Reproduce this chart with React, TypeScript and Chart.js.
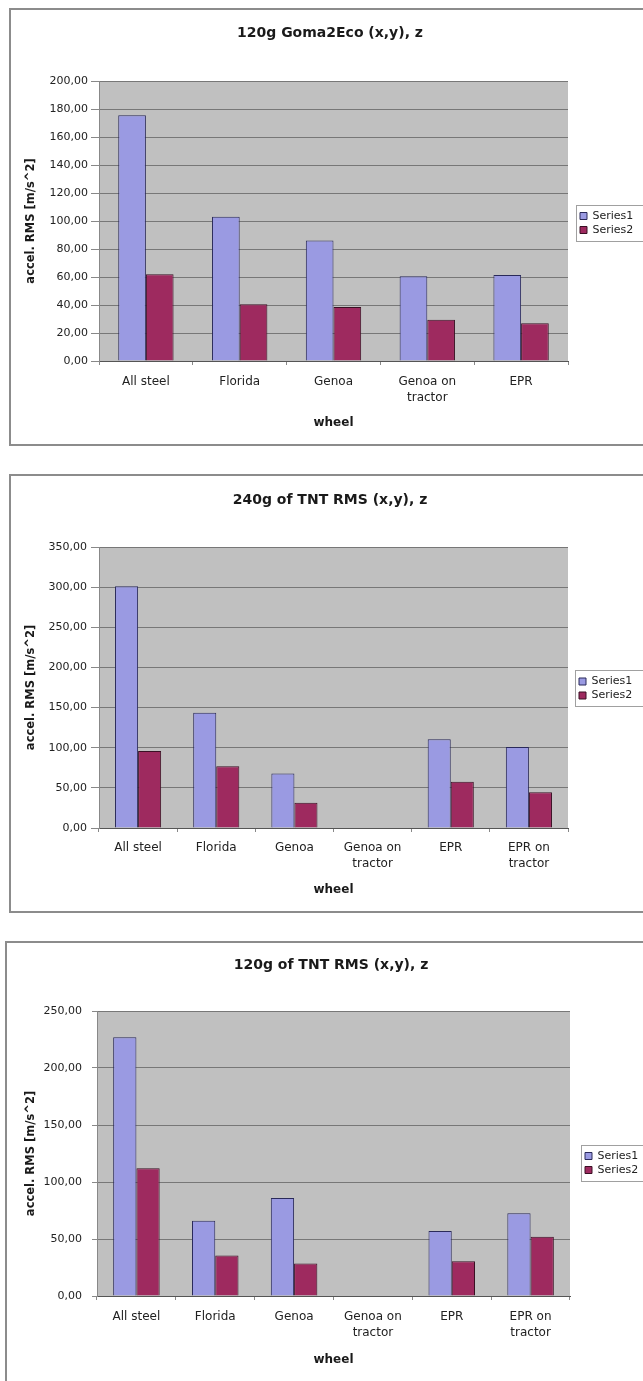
import React, { useEffect, useRef } from 'react';
import { Chart, registerables } from 'chart.js';

Chart.register(...registerables);

// ---------- data ----------
const categories1: (string | string[])[] = ['All steel', 'Florida', 'Genoa', ['Genoa on', 'tractor'], 'EPR'];
const series1Chart1: (number | null)[] = [175.5, 103, 86, 60.5, 61.5];
const series2Chart1: (number | null)[] = [62, 40.5, 38.5, 29.5, 27];

const categories2: (string | string[])[] = ['All steel', 'Florida', 'Genoa', ['Genoa on', 'tractor'], 'EPR', ['EPR on', 'tractor']];
const series1Chart2: (number | null)[] = [301, 143.5, 68, null, 110.5, 101];
const series2Chart2: (number | null)[] = [96, 77, 31.5, null, 57.5, 44.5];

const categories3: (string | string[])[] = ['All steel', 'Florida', 'Genoa', ['Genoa on', 'tractor'], 'EPR', ['EPR on', 'tractor']];
const series1Chart3: (number | null)[] = [227, 66, 86, null, 57, 72.5];
const series2Chart3: (number | null)[] = [112, 35.5, 28.5, null, 30.5, 52];

const seriesNames = ['Series1', 'Series2'];
const titles = ['120g Goma2Eco (x,y), z', '240g of TNT RMS (x,y), z', '120g of TNT RMS (x,y), z'];
const yAxisTitle = 'accel. RMS [m/s^2]';
const xAxisTitle = 'wheel';
const yMaxes = [200, 350, 250];
const ySteps = [20, 50, 50];

// ---------- styles ----------
const FONT = 'DejaVu Sans';
const S1_FILL = '#9a9ae2';
const S1_BORDER = '#2a2a5a';
const S2_FILL = '#9e2a5f';
const S2_BORDER = '#3a1024';
const PLOT_BG = '#c0c0c0';
const GRID = '#777777';

type Spec = {
  title: string;
  categories: (string | string[])[];
  s1: (number | null)[];
  s2: (number | null)[];
  yMax: number;
  yStep: number;
  box: { left: number; top: number; width: number; height: number };
  plot: { left: number; right: number; top: number; bottom: number }; // canvas coords
  titleY: number;
  titleCenter: number;
  yTitleX: number;
  xTitleFromBottom: number;
  xTickGap: number;
  yTickLen: number;
  yTickPad: number;
  legendDx: number;
  legendDy: number;
};

const specs: Spec[] = [
  {
    title: titles[0], categories: categories1, s1: series1Chart1, s2: series2Chart1,
    yMax: yMaxes[0], yStep: ySteps[0],
    box: { left: 9, top: 8, width: 690, height: 438 },
    plot: { left: 90, right: 559, top: 73, bottom: 353 },
    titleY: 25, titleCenter: 321, yTitleX: 22, xTitleFromBottom: 23, xTickGap: 8.9,
    yTickLen: 8, yTickPad: 3, legendDx: 9, legendDy: -4,
  },
  {
    title: titles[1], categories: categories2, s1: series1Chart2, s2: series2Chart2,
    yMax: yMaxes[1], yStep: ySteps[1],
    box: { left: 9, top: 474, width: 690, height: 439 },
    plot: { left: 90, right: 559, top: 73, bottom: 354 },
    titleY: 26, titleCenter: 321, yTitleX: 22, xTitleFromBottom: 23, xTickGap: 7.9,
    yTickLen: 8, yTickPad: 4, legendDx: 8, legendDy: -5,
  },
  {
    title: titles[2], categories: categories3, s1: series1Chart3, s2: series2Chart3,
    yMax: yMaxes[2], yStep: ySteps[2],
    box: { left: 5, top: 941, width: 690, height: 450 },
    plot: { left: 92, right: 565, top: 70, bottom: 355 },
    titleY: 24, titleCenter: 326, yTitleX: 26, xTitleFromBottom: 31, xTickGap: 8.9,
    yTickLen: 5, yTickPad: 10, legendDx: 12, legendDy: -3,
  },
];

const excelLook = {
  id: 'excelLook',
  afterLayout(chart: any, _args: any, opts: any) {
    const lg = chart.legend;
    if (lg) {
      lg.left += opts.legendDx; lg.right += opts.legendDx;
      lg.top += opts.legendDy; lg.bottom += opts.legendDy;
    }
    const tb = chart.titleBlock;
    if (tb) {
      const dx = opts.titleCenter - (tb.left + tb.right) / 2;
      tb.left += dx; tb.right += dx;
    }
  },
  beforeDraw(chart: any) {
    const { ctx, chartArea: a } = chart;
    ctx.save();
    ctx.fillStyle = '#ffffff';
    ctx.fillRect(0, 0, chart.width, chart.height);
    ctx.fillStyle = PLOT_BG;
    ctx.fillRect(a.left, a.top, a.right - a.left, a.bottom - a.top);
    ctx.restore();
  },
  afterDraw(chart: any) {
    const { ctx } = chart;
    ctx.save();
    // legend frame
    const hb = chart.legend?.legendHitBoxes || [];
    if (hb.length) {
      let l = Infinity, t = Infinity, b = -Infinity;
      hb.forEach((h: any) => { l = Math.min(l, h.left); t = Math.min(t, h.top); b = Math.max(b, h.top + h.height); });
      ctx.strokeStyle = '#a0a0a0';
      ctx.lineWidth = 1;
      ctx.strokeRect(Math.round(l - 4) + 0.5, Math.round(t - 6) + 0.5, chart.width, Math.round(b - t + 11));
    }
    // chart frame
    ctx.strokeStyle = '#8c8c8c';
    ctx.lineWidth = 2;
    ctx.strokeRect(1, 1, chart.width - 2, chart.height - 2);
    ctx.restore();
  },
};

function ChartPanel({ spec }: { spec: Spec }) {
  const ref = useRef<HTMLCanvasElement | null>(null);
  useEffect(() => {
    if (!ref.current) return;
    const s = spec;
    const titleLH = 14 * 1.2;
    const titlePadTop = s.titleY - titleLH / 2;
    const titlePadBottom = s.plot.top - titlePadTop - titleLH;
    const yTitleLH = 11.5 * 1.2;
    const xTitleLH = 12 * 1.2;
    const xTickLH = 12 * 1.35;
    const chart = new Chart(ref.current, {
      type: 'bar',
      data: {
        labels: s.categories as any,
        datasets: [
          { label: seriesNames[0], data: s.s1, backgroundColor: S1_FILL, borderColor: S1_BORDER, borderWidth: 1 },
          { label: seriesNames[1], data: s.s2, backgroundColor: S2_FILL, borderColor: S2_BORDER, borderWidth: 1 },
        ],
      },
      options: {
        responsive: false,
        animation: false,
        devicePixelRatio: 1,
        datasets: { bar: { categoryPercentage: 0.59, barPercentage: 1 } },
        layout: { padding: { left: 0, top: 0, right: 0, bottom: 0 } },
        plugins: {
          title: {
            display: true,
            text: s.title,
            color: '#1a1a1a',
            font: { family: FONT, size: 14, weight: 'bold', lineHeight: 1.2 },
            padding: { top: titlePadTop, bottom: titlePadBottom },
          },
          legend: {
            position: 'right',
            align: 'center',
            labels: {
              boxWidth: 7,
              boxHeight: 7,
              padding: 3,
              color: '#222',
              font: { family: FONT, size: 11 },
            },
          },
          tooltip: { enabled: false },
          excelLook: { legendDx: s.legendDx, legendDy: s.legendDy, titleCenter: s.titleCenter },
        } as any,
        scales: {
          x: {
            grid: { display: true, drawOnChartArea: false, drawTicks: true, tickLength: 4, color: '#888', offset: true },
            border: { display: true, color: '#555' },
            ticks: {
              color: '#222',
              font: { family: FONT, size: 12, lineHeight: 1.35 },
              padding: s.xTickGap + xTickLH / 2 - xTickLH / 2,
              maxRotation: 0,
              autoSkip: false,
            },
            title: {
              display: true,
              text: xAxisTitle,
              color: '#1a1a1a',
              font: { family: FONT, size: 12, weight: 'bold', lineHeight: 1.2 },
              padding: { top: 0, bottom: s.xTitleFromBottom - xTitleLH / 2 },
            },
            afterFit: (sc: any) => { sc.height = s.box.height - s.plot.bottom; },
          },
          y: {
            min: 0,
            max: s.yMax,
            ticks: {
              stepSize: s.yStep,
              color: '#222',
              font: { family: FONT, size: 11 },
              padding: s.yTickPad,
              callback: (v: any) => Number(v).toFixed(2).replace('.', ','),
            },
            grid: { color: GRID, tickColor: '#888', tickLength: s.yTickLen, lineWidth: 1 },
            border: { display: true, color: '#888' },
            title: {
              display: true,
              text: yAxisTitle,
              color: '#1a1a1a',
              font: { family: FONT, size: 11.5, weight: 'bold', lineHeight: 1.2 },
              padding: { top: s.yTitleX - yTitleLH / 2, bottom: 0 },
            },
            afterFit: (sc: any) => { sc.width = s.plot.left; },
          },
        } as any,
      } as any,
      plugins: [excelLook],
    });
    const dr = chart.chartArea.right - s.plot.right;
    if (Math.abs(dr) > 0.25) {
      (chart.options as any).layout.padding.right = dr;
      chart.update();
    }
    return () => chart.destroy();
  }, [spec]);
  return (
    <canvas
      ref={ref}
      width={spec.box.width}
      height={spec.box.height}
      style={{ position: 'absolute', left: spec.box.left, top: spec.box.top, width: spec.box.width, height: spec.box.height }}
    />
  );
}

export default function App() {
  return (
    <div style={{ position: 'absolute', left: 0, top: 0, width: 643, height: 1381, overflow: 'hidden', background: '#ffffff' }}>
      {specs.map((s, i) => (
        <ChartPanel key={i} spec={s} />
      ))}
    </div>
  );
}
